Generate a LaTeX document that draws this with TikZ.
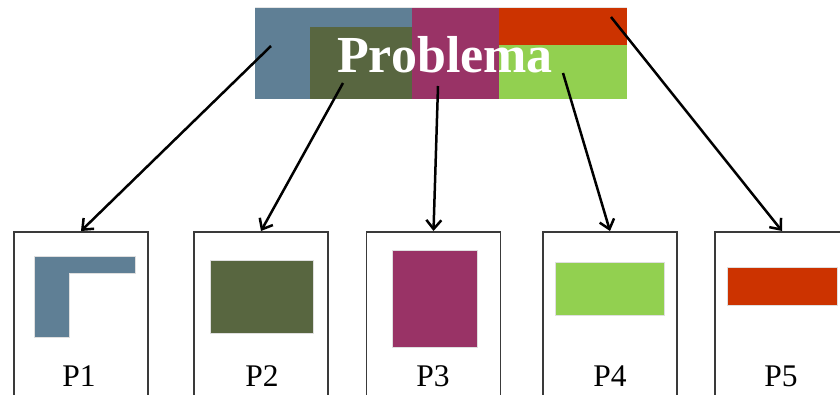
\documentclass[tikz,border=0pt]{standalone}
\usepackage{fontspec}
\setmainfont{Liberation Serif}
\usetikzlibrary{arrows.meta}

\definecolor{steelblue}{HTML}{5F7F95}
\definecolor{olive}{HTML}{586640}
\definecolor{plum}{HTML}{993366}
\definecolor{rust}{HTML}{CC3300}
\definecolor{lime}{HTML}{92D050}
\definecolor{frame}{HTML}{3A3A3A}

\tikzset{
  piece/.style={draw=white!75!gray, line width=0.6pt},
  partbox/.style={draw=frame, line width=1.7pt, fill=white, anchor=north,
    minimum width=134pt, minimum height=190pt, inner sep=0pt},
  partlabel/.style={anchor=base, inner sep=0pt, font=\fontsize{31.5}{31.5}\selectfont},
  link/.style={draw=black, line width=2.5pt,
    -{Straight Barb[length=9pt,width=15pt,line width=2.5pt]}}
}

\begin{document}
\begin{tikzpicture}[x=1pt,y=-1pt]
  \useasboundingbox (0,0) rectangle (840,394);
  \clip (0,0) rectangle (840,394);

  % whole problem split into coloured pieces
  \fill[steelblue] (255,7) rectangle (412,99);
  \fill[olive] (310,27) rectangle (412,99);
  \fill[plum] (412,7) rectangle (499,99);
  \fill[rust] (499,7) rectangle (627,45);
  \fill[lime] (499,45) rectangle (627,99);
  \draw[white!80!gray, line width=0.8pt] (255,7) -- (627,7);
  \node[text=white, anchor=base, inner sep=0pt,
        font=\fontsize{52}{52}\selectfont\bfseries] (title) at (445,72) {Problema};

  % arrow start points on the pieces
  \coordinate (s1) at (271,46);
  \coordinate (s2) at (343,83);
  \coordinate (s3) at (438,86);
  \coordinate (s4) at (563,73);
  \coordinate (s5) at (611,17);

  % sub-problem boxes
  \node[partbox] (b1) at (81,231) {};
  \node[partbox] (b2) at (261,231) {};
  \node[partbox] (b3) at (433.5,231) {};
  \node[partbox] (b4) at (610,231) {};
  \node[partbox] (b5) at (782,231) {};

  % pieces inside the boxes
  \fill[steelblue, piece] (34,256) -- (135,256) -- (135,273) -- (69,273)
        -- (69,337) -- (34,337) -- cycle;
  \fill[olive, piece] (210,260) rectangle (313,333);
  \fill[plum, piece] (392,250) rectangle (477,347);
  \fill[lime, piece] (555,262) rectangle (664,315);
  \fill[rust, piece] (727,267) rectangle (837,305);

  % labels
  \node[partlabel] (l1) at (79,386) {P1};
  \node[partlabel] (l2) at (262,386) {P2};
  \node[partlabel] (l3) at (433,386) {P3};
  \node[partlabel] (l4) at (610,386) {P4};
  \node[partlabel] (l5) at (781,386) {P5};

  % decomposition arrows
  \draw[link] (s1) -- (b1.north);
  \draw[link] (s2) -- (b2.north);
  \draw[link] (s3) -- (b3.north);
  \draw[link] (s4) -- (b4.north);
  \draw[link] (s5) -- (b5.north);
\end{tikzpicture}
\end{document}
